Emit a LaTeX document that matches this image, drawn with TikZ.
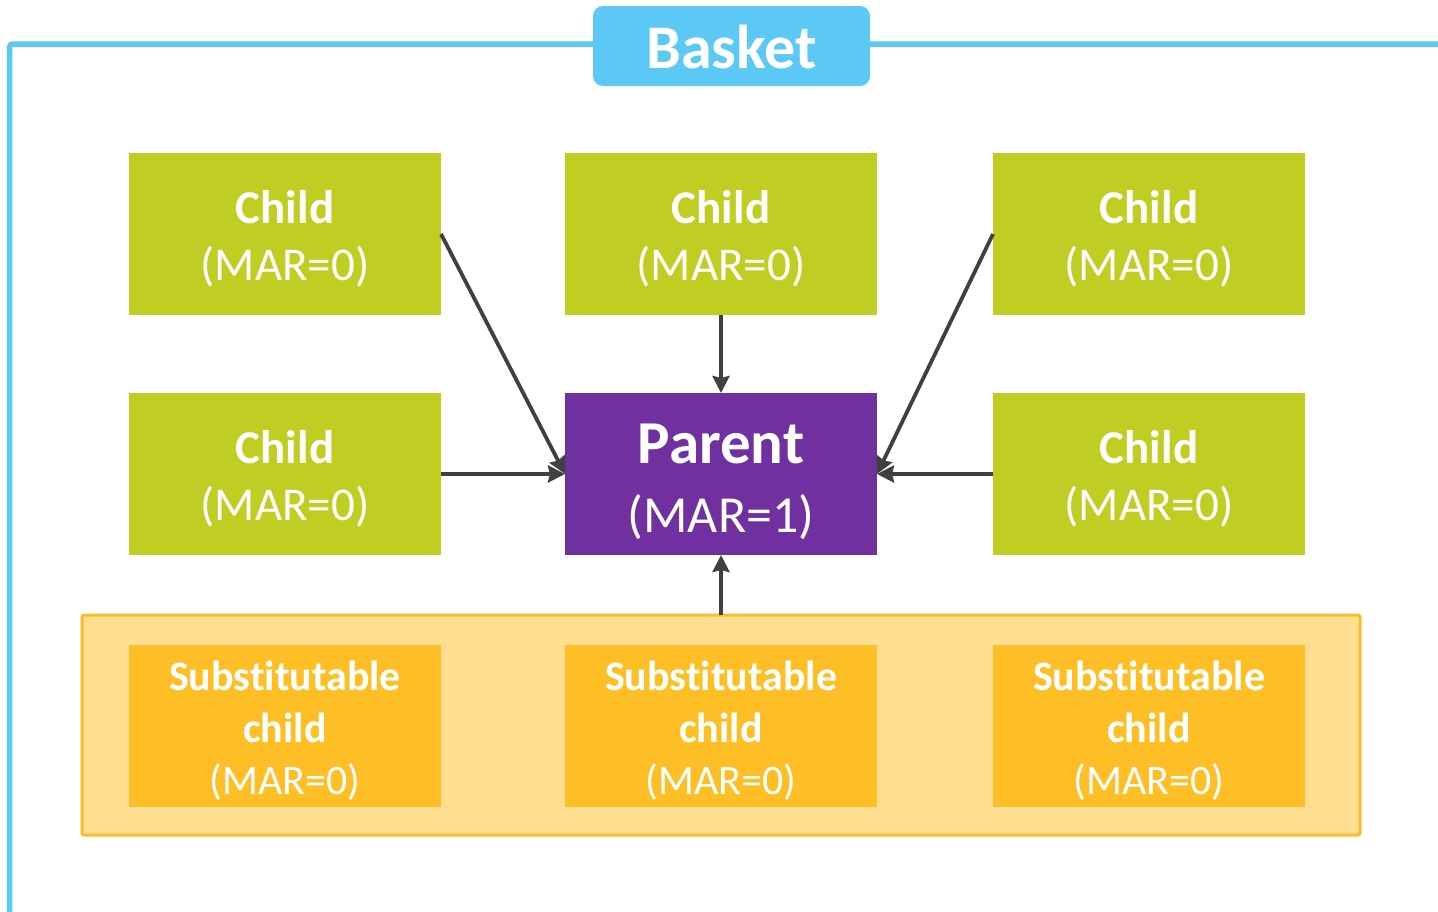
\documentclass[tikz,border=0pt]{standalone}
\usepackage{fontspec}
\setmainfont{Carlito}[Ligatures=NoCommon]
\usetikzlibrary{arrows.meta}
\definecolor{basketblue}{HTML}{5BC8F5}
\definecolor{childgreen}{HTML}{C0CD22}
\definecolor{parentpurple}{HTML}{7030A0}
\definecolor{subchild}{HTML}{FEBF26}
\definecolor{subfill}{HTML}{FEDF91}
\definecolor{subborder}{HTML}{FDBB2A}
\definecolor{arrowgray}{HTML}{404040}
\newcommand\lowerby[2]{\raisebox{-#1}[\height][\depth]{#2}}
\tikzset{
  box/.style={rectangle, inner sep=0pt, outer sep=0pt, minimum width=312pt, minimum height=162pt, text=white, align=center},
  childbox/.style={box, fill=childgreen, font=\fontsize{47}{57}\selectfont},
  parentbox/.style={box, fill=parentpurple, font=\fontsize{52}{69}\selectfont},
  subbox/.style={box, fill=subchild, font=\fontsize{42}{52}\selectfont},
  subgroup/.style={rectangle, inner sep=0pt, outer sep=0pt, fill=subfill, draw=subborder, line width=3pt, rounded corners=2pt, minimum width=1278pt, minimum height=220pt},
  basketlabel/.style={rectangle, rounded corners=10pt, fill=basketblue, text=white, inner sep=0pt, minimum width=277pt, minimum height=80pt, font=\fontsize{62}{70}\selectfont\bfseries},
  frameline/.style={draw=basketblue, line width=5.5pt, rounded corners=3pt},
  arr/.style={draw=arrowgray, line width=3.8pt, -{Stealth[length=17pt, width=17pt, inset=2pt]}}
}
\begin{document}
\begin{tikzpicture}[x=1pt, y=-1pt]
\useasboundingbox (0,0) rectangle (1438,911);
% basket frame
\coordinate (fb) at (9.7,925);
\coordinate (fc) at (9.7,44);
\coordinate (fr) at (1450,44);
\draw[frameline] (fb) -- (fc) -- (fr);
\node[basketlabel] (basket) at (731.5,46) {\lowerby{1pt}{Basket}};
% children
\node[childbox] (c1) at (285,234) {\lowerby{4.5pt}{\textbf{Child}}\\\lowerby{4.5pt}{(MAR=0)}};
\node[childbox] (c2) at (721,234) {\lowerby{4.5pt}{\textbf{Child}}\\\lowerby{4.5pt}{(MAR=0)}};
\node[childbox] (c3) at (1149,234) {\lowerby{4.5pt}{\textbf{Child}}\\\lowerby{4.5pt}{(MAR=0)}};
\node[childbox] (c4) at (285,474) {\lowerby{4.5pt}{\textbf{Child}}\\\lowerby{4.5pt}{(MAR=0)}};
\node[childbox] (c5) at (1149,474) {\lowerby{4.5pt}{\textbf{Child}}\\\lowerby{4.5pt}{(MAR=0)}};
\node[parentbox] (p) at (721,474) {\lowerby{8pt}{\fontsize{61}{69}\selectfont\bfseries Parent}\\\lowerby{8pt}{(MAR=1)}};
% substitutable group
\node[subgroup] (sub) at (721,725) {};
\node[subbox] (s1) at (285,726) {\lowerby{5pt}{\textbf{Substitutable}}\\\lowerby{5pt}{\textbf{child}}\\\lowerby{5pt}{(MAR=0)}};
\node[subbox] (s2) at (721,726) {\lowerby{5pt}{\textbf{Substitutable}}\\\lowerby{5pt}{\textbf{child}}\\\lowerby{5pt}{(MAR=0)}};
\node[subbox] (s3) at (1149,726) {\lowerby{5pt}{\textbf{Substitutable}}\\\lowerby{5pt}{\textbf{child}}\\\lowerby{5pt}{(MAR=0)}};
% connectors
\draw[arr] (c1.east) -- (p.west);
\draw[arr] (c2.south) -- (p.north);
\draw[arr] (c3.west) -- (p.east);
\draw[arr] (c4.east) -- (p.west);
\draw[arr] (c5.west) -- (p.east);
\draw[arr] (sub.north) -- (p.south);
\end{tikzpicture}
\end{document}
